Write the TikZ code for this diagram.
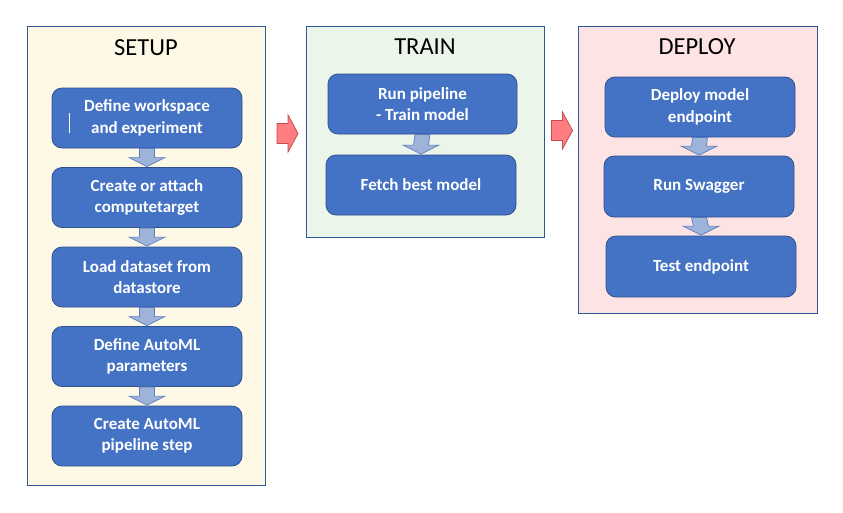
\documentclass[tikz,border=0pt]{standalone}
\usepackage{fontspec}
\setmainfont{Carlito}
\usetikzlibrary{calc}
\definecolor{boxblue}{HTML}{4472C4}
\definecolor{boxedge}{HTML}{2F528F}
\definecolor{panedge}{HTML}{2F5597}
\definecolor{setupbg}{HTML}{FEF8E6}
\definecolor{trainbg}{HTML}{EBF5EA}
\definecolor{deploybg}{HTML}{FDE3E3}
\definecolor{arrfill}{HTML}{9EB3DA}
\definecolor{arredge}{HTML}{5A7CC0}
\definecolor{redfill}{HTML}{FF7C80}
\definecolor{rededge}{HTML}{C0504D}
\tikzset{
  panel/.style={draw=panedge, line width=0.9pt, minimum width=238pt, inner sep=0pt},
  ptitle/.style={font=\fontsize{24.5}{28}\selectfont, text=black, inner sep=0pt},
  stepbox/.style={draw=boxedge, line width=0.8pt, fill=boxblue, rounded corners=10pt,
    minimum width=190pt, minimum height=60pt, inner sep=0pt, align=center, text=white,
    font=\bfseries\fontsize{17}{21.5}\selectfont},
  downarr/.style={draw=arredge, fill=arrfill, line width=0.7pt, line join=miter},
  redarr/.style={draw=rededge, fill=redfill, line width=0.8pt, line join=miter},
}
\newcommand{\stepdownarr}[2]{%
  \draw[downarr] ($(#1.south)+(-7.5,0)$) -- ($(#1.south)+(7.5,0)$) -- ($(#2.north)+(7.5,-9.5)$)
    -- ($(#2.north)+(18,-9.5)$) -- ($(#2.north)+(0,-0.5)$) -- ($(#2.north)+(-18,-9.5)$)
    -- ($(#2.north)+(-7.5,-9.5)$) -- cycle;}
\newcommand{\phaserightarr}[1]{%
  \draw[redarr] ($(#1)+(0,-10)$) -- ($(#1)+(11,-10)$) -- ($(#1)+(11,-18.5)$) -- ($(#1)+(21,0)$)
    -- ($(#1)+(11,18.5)$) -- ($(#1)+(11,10)$) -- ($(#1)+(0,10)$) -- cycle;}
\begin{document}
\begin{tikzpicture}[x=1pt,y=-1pt]
\useasboundingbox (0,0) rectangle (843,512);
% panels
\node[panel, fill=setupbg, minimum height=459pt] (setup) at (146,255.5) {};
\node[panel, fill=trainbg, minimum height=211pt] (train) at (425,131.5) {};
\node[panel, fill=deploybg, minimum width=239pt, minimum height=287pt] (deploy) at (697.5,169.5) {};
\node[ptitle] (tsetup) at (146,48) {SETUP};
\node[ptitle] (ttrain) at (425,47) {TRAIN};
\node[ptitle] (tdeploy) at (697,47) {DEPLOY};
% setup steps
\node[stepbox] (s1) at (147,118) {Define workspace\\and experiment};
\node[stepbox] (s2) at (147,197.5) {Create or attach\\computetarget};
\node[stepbox] (s3) at (147,277) {Load dataset from\\datastore};
\node[stepbox] (s4) at (147,356.5) {Define AutoML\\parameters};
\node[stepbox] (s5) at (147,436) {Create AutoML\\pipeline step};
\draw[white, line width=0.8pt] (69,113) -- (69,133);
% train steps
\node[stepbox, minimum width=189pt] (t1) at (422.5,104) {Run pipeline\\- Train model};
\node[stepbox] (t2) at (421,185) {Fetch best model};
% deploy steps
\node[stepbox] (d1) at (700,107) {Deploy model\\endpoint};
\node[stepbox, minimum height=61pt] (d2) at (699,186.5) {Run Swagger};
\node[stepbox, minimum height=61pt] (d3) at (701,266.5) {Test endpoint};
% down arrows
\stepdownarr{s1}{s2}
\stepdownarr{s2}{s3}
\stepdownarr{s3}{s4}
\stepdownarr{s4}{s5}
\stepdownarr{t1}{t2}
\stepdownarr{d1}{d2}
\stepdownarr{d2}{d3}
% phase arrows
\coordinate (r1) at (277,133.5);
\coordinate (r2) at (551.5,130.5);
\phaserightarr{r1}
\phaserightarr{r2}
\end{tikzpicture}
\end{document}
